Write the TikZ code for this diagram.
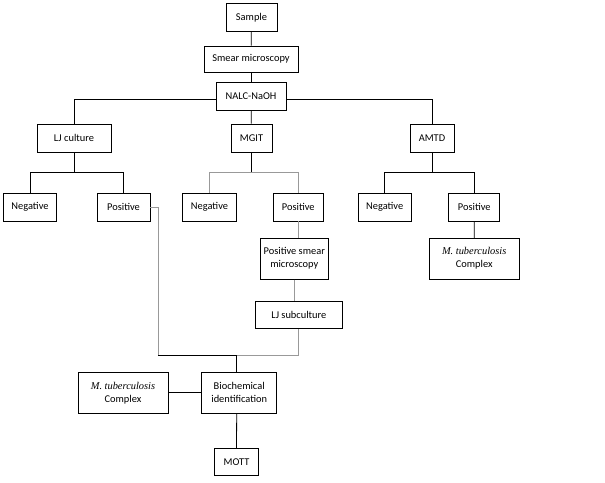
\documentclass[tikz,border=0pt]{standalone}
\usepackage{fontspec}
\setmainfont{Carlito}
\newfontfamily\itfont{Liberation Serif}
\usetikzlibrary{calc}
\begin{document}
\begin{tikzpicture}[x=1pt,y=-1pt,
  box/.style={draw,line width=0.9pt,align=center,inner sep=1pt,font=\fontsize{10.4}{13}\selectfont},
  conn/.style={line width=0.8pt},
  gconn/.style={line width=0.8pt,draw=gray!80}]
\useasboundingbox (0,0) rectangle (605,482);
\node[box,minimum width=51pt,minimum height=28pt] (sample) at (251.5,17.5) {Sample};
\node[box,minimum width=94pt,minimum height=26pt] (smear) at (251,59) {Smear microscopy};
\node[box,minimum width=70pt,minimum height=28pt] (nalc) at (251,96) {NALC-NaOH};
\node[box,minimum width=74pt,minimum height=28pt] (lj) at (74,138) {LJ culture};
\node[box,minimum width=41pt,minimum height=28pt] (mgit) at (251.5,138) {MGIT};
\node[box,minimum width=44pt,minimum height=28pt] (amtd) at (432,138) {AMTD};
\node[box,minimum width=53pt,minimum height=28pt] (neg1) at (30,207) {Negative};
\node[box,minimum width=53pt,minimum height=28pt] (pos1) at (123.5,207) {Positive};
\node[box,minimum width=54pt,minimum height=28pt] (neg2) at (209.5,207) {Negative};
\node[box,minimum width=50pt,minimum height=28pt] (pos2) at (298.3,207) {Positive};
\node[box,minimum width=53pt,minimum height=28pt] (neg3) at (384.7,207) {Negative};
\node[box,minimum width=51pt,minimum height=28pt] (pos3) at (474.3,207) {Positive};
\node[box,minimum width=68pt,minimum height=41pt] (psm) at (294.3,258.7) {Positive smear\\microscopy};
\node[box,minimum width=90pt,minimum height=41pt] (mtb1) at (474.2,258.7) {{\itfont\itshape M. tuberculosis}\\Complex};
\node[box,minimum width=87pt,minimum height=27pt] (ljs) at (298.8,314.8) {LJ subculture};
\node[box,minimum width=75pt,minimum height=41pt] (bio) at (239.2,392.8) {Biochemical\\identification};
\node[box,minimum width=90pt,minimum height=41pt] (mtb2) at (123,392.8) {{\itfont\itshape M. tuberculosis}\\Complex};
\node[box,minimum width=44pt,minimum height=27pt] (mott) at (236.5,461.7) {MOTT};
% main trunk
\draw[conn] (sample) -- (smear);
\draw[conn] (smear) -- (nalc);
\coordinate (jn) at (251,99.3);
\draw[conn] (nalc.west |- jn) -| (lj.north);
\draw[conn] (nalc.east |- jn) -| (amtd.north);
\draw[conn] (nalc) -- (mgit);
% LJ branch
\coordinate (j1) at (74,172.3);
\draw[conn] (lj.south) -- (j1);
\draw[conn] (neg1.north) |- (j1) -| (pos1.north);
% MGIT branch
\coordinate (j2) at (251.5,172.3);
\draw[conn] (mgit.south) -- (j2);
\draw[gconn] (neg2.north) |- (j2) -| (pos2.north);
\draw[gconn] (pos2) -- (pos2 |- psm.north);
\draw[gconn] (psm.south) -- (psm.south |- ljs.north);
% AMTD branch
\coordinate (j3) at (432,172.3);
\draw[conn] (amtd.south) -- (j3);
\draw[conn] (neg3.north) |- (j3) -| (pos3.north);
\draw[conn] (pos3) -- (mtb1);
% merge
\coordinate (jm) at (236.7,355);
\coordinate (jl) at (158,355);
\draw[gconn] (pos1.east) -| (jl);
\draw[conn] (jl) -- (jm);
\draw[gconn] (jm) -| (ljs.south);
\draw[conn] (jm) -- (jm |- bio.north);
\draw[conn] (bio.west) -- (mtb2.east);
\draw[conn] (bio.south -| jm) -- (mott.north);
\end{tikzpicture}
\end{document}
